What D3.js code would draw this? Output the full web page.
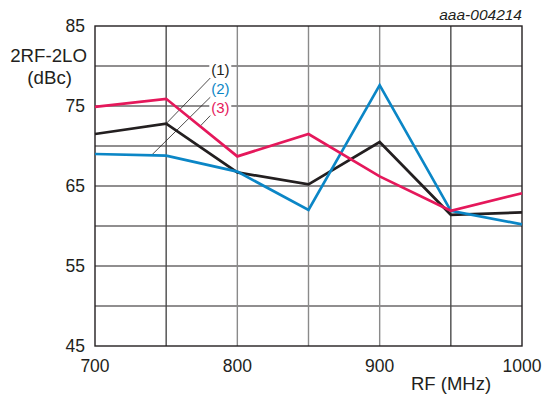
<!DOCTYPE html>
<html>
<head>
<meta charset="utf-8">
<script src="https://cdn.jsdelivr.net/npm/d3@7"></script>
<style>
  body { margin: 0; background: #fff; }
  text { font-family: "Liberation Sans", Arial, sans-serif; fill: #231f20; }
</style>
</head>
<body>
<svg width="544" height="400"></svg>
<script>
// RF frequency (MHz)
var rf = [700, 750, 800, 850, 900, 950, 1000];
// 2RF-2LO (dBc) for the three curves
var curve1 = [71.5, 72.8, 66.7, 65.2, 70.5, 61.4, 61.7];
var curve2 = [69.0, 68.8, 66.8, 62.0, 77.6, 61.9, 60.2];
var curve3 = [74.9, 75.9, 68.7, 71.5, 66.2, 61.9, 64.1];
var xTicks = [700, 800, 900, 1000];
var yTicks = [45, 55, 65, 75, 85];
var xGrid = [750, 800, 850, 900, 950];
var yGrid = [50, 55, 60, 65, 70, 75, 80];
var labels = ["(1)", "(2)", "(3)"];
// leader lines: [label x, label y, target x, target y] in data units
var leaders = [
  [781, 78.5, 750, 72.8],
  [781, 76.1, 740, 68.9],
  [781, 73.8, 774, 72.5]
];

var svg = d3.select("svg");
var margin = {left: 95, right: 22, top: 26, bottom: 54};
var width = 544 - margin.left - margin.right,
    height = 400 - margin.top - margin.bottom;

var x = d3.scaleLinear().domain([700, 1000]).range([margin.left, margin.left + width]);
var y = d3.scaleLinear().domain([45, 85]).range([margin.top + height, margin.top]);

var colors = ["#231f20", "#0b86c6", "#e5185b"];

// grid
svg.append("g").selectAll("line").data(yGrid).enter().append("line")
  .attr("x1", x(700)).attr("x2", x(1000))
  .attr("y1", d => y(d)).attr("y2", d => y(d))
  .attr("stroke", "#231f20").attr("stroke-width", 1.2);

svg.append("g").selectAll("line").data(xGrid).enter().append("line")
  .attr("x1", d => x(d)).attr("x2", d => x(d))
  .attr("y1", y(45)).attr("y2", y(85))
  .attr("stroke", d => (d == 750 || d == 950) ? "#4a4a4a" : "#8a8a8a")
  .attr("stroke-width", 1.4);

svg.append("rect")
  .attr("x", x(700)).attr("y", y(85))
  .attr("width", x(1000) - x(700)).attr("height", y(45) - y(85))
  .attr("fill", "none").attr("stroke", "#231f20").attr("stroke-width", 1.4);

// leaders and labels
svg.append("g").selectAll("line").data(leaders).enter().append("line")
  .attr("x1", d => x(d[0])).attr("y1", d => y(d[1]))
  .attr("x2", d => x(d[2])).attr("y2", d => y(d[3]))
  .attr("stroke", "#231f20").attr("stroke-width", 0.8);

var lab = svg.append("g").selectAll("g").data(leaders).enter().append("g");
lab.append("rect")
  .attr("x", d => x(d[0]) - 1).attr("y", d => y(d[1]) - 15)
  .attr("width", 22).attr("height", 14)
  .attr("fill", "#fff");
lab.append("text")
  .attr("x", d => x(d[0]) + 1).attr("y", d => y(d[1]) - 3)
  .attr("font-size", 15)
  .style("fill", (d, i) => colors[i])
  .text((d, i) => labels[i]);

// curves
var line = d3.line().x((d, i) => x(rf[i])).y(d => y(d));
[curve1, curve2, curve3].forEach(function(c, i) {
  svg.append("path").datum(c)
    .attr("d", line)
    .attr("fill", "none")
    .attr("stroke", colors[i])
    .attr("stroke-width", 2.7)
    .attr("stroke-linejoin", "miter");
});

// axis labels
svg.append("g").selectAll("text").data(yTicks).enter().append("text")
  .attr("x", 85).attr("y", d => y(d) + 6.3)
  .attr("text-anchor", "end").attr("font-size", 17.5)
  .text(d => d);

svg.append("g").selectAll("text").data(xTicks).enter().append("text")
  .attr("x", d => x(d)).attr("y", y(45) + 26)
  .attr("text-anchor", "middle").attr("font-size", 17.5)
  .text(d => d);

svg.append("text").attr("x", 87).attr("y", 62)
  .attr("text-anchor", "end").attr("font-size", 18.7).text("2RF-2LO");
svg.append("text").attr("x", 72).attr("y", 84)
  .attr("text-anchor", "end").attr("font-size", 18.7).text("(dBc)");

svg.append("text").attr("x", 451).attr("y", 390)
  .attr("text-anchor", "middle").attr("font-size", 18.5).text("RF (MHz)");

svg.append("text").attr("x", 522).attr("y", 20)
  .attr("text-anchor", "end").attr("font-size", 15.5)
  .attr("font-style", "italic").text("aaa-004214");
</script>
</body>
</html>
